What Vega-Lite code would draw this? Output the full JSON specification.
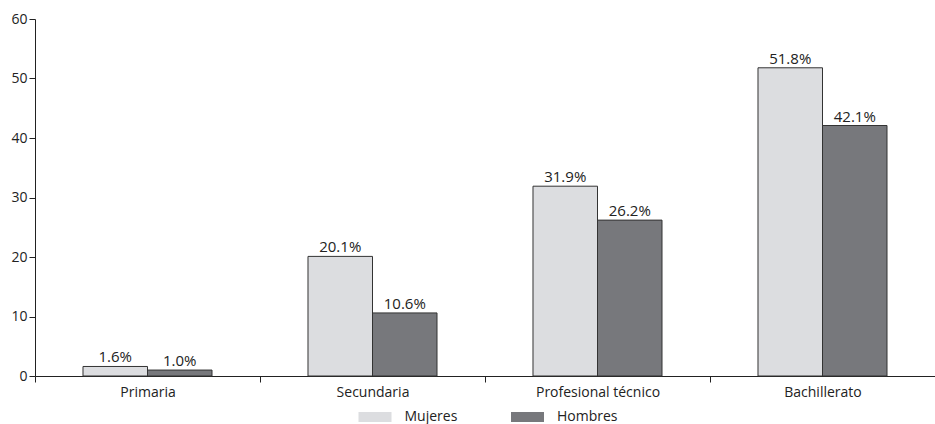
{
  "$schema": "https://vega.github.io/schema/vega-lite/v6.json",
  "autosize": "none",
  "width": 900,
  "height": 357,
  "padding": {"left": 35, "top": 19, "right": 0, "bottom": 48},
  "background": "white",
  "config": {
    "view": {"stroke": null},
    "font": "Open Sans",
    "axis": {
      "labelFont": "Open Sans",
      "labelFontSize": 14,
      "labelColor": "#222222",
      "domainColor": "#222222",
      "tickColor": "#222222",
      "grid": false,
      "title": null
    },
    "legend": {"labelFont": "Open Sans", "labelFontSize": 14, "labelColor": "#222222"}
  },
  "data": {
    "values": [
      {"nivel": "Primaria", "sexo": "Mujeres", "valor": 1.6},
      {"nivel": "Primaria", "sexo": "Hombres", "valor": 1.0},
      {"nivel": "Secundaria", "sexo": "Mujeres", "valor": 20.1},
      {"nivel": "Secundaria", "sexo": "Hombres", "valor": 10.6},
      {"nivel": "Profesional técnico", "sexo": "Mujeres", "valor": 31.9},
      {"nivel": "Profesional técnico", "sexo": "Hombres", "valor": 26.2},
      {"nivel": "Bachillerato", "sexo": "Mujeres", "valor": 51.8},
      {"nivel": "Bachillerato", "sexo": "Hombres", "valor": 42.1}
    ]
  },
  "encoding": {
    "x": {
      "field": "nivel",
      "type": "nominal",
      "sort": ["Primaria", "Secundaria", "Profesional técnico", "Bachillerato"],
      "scale": {"paddingInner": 0, "paddingOuter": 0},
      "axis": {"labelAngle": 0, "tickBand": "extent", "tickSize": 6, "labelPadding": 3, "domainWidth": 1}
    },
    "xOffset": {
      "field": "sexo",
      "type": "nominal",
      "sort": ["Mujeres", "Hombres"],
      "scale": {"paddingInner": 0, "paddingOuter": 0.744}
    },
    "y": {
      "field": "valor",
      "type": "quantitative",
      "scale": {"domain": [0, 60], "nice": false},
      "axis": {"values": [0, 10, 20, 30, 40, 50, 60], "tickSize": 6, "labelPadding": 2}
    }
  },
  "layer": [
    {
      "mark": {"type": "bar", "stroke": "#333333", "strokeWidth": 1},
      "encoding": {
        "fill": {
          "field": "sexo",
          "type": "nominal",
          "sort": ["Mujeres", "Hombres"],
          "scale": {"domain": ["Mujeres", "Hombres"], "range": ["#dcdde0", "#77787c"]},
          "legend": {
            "title": null,
            "orient": "none",
            "direction": "horizontal",
            "legendX": 330,
            "legendY": 388,
            "symbolType": "M-1.65,-0.5L1.65,-0.5L1.65,0.5L-1.65,0.5Z",
            "symbolSize": 400,
            "symbolStrokeWidth": 0,
            "labelOffset": 19.5,
            "columnPadding": 52.5
          }
        }
      }
    },
    {
      "transform": [
        {"calculate": "format(datum.valor, '.1f') + '%'", "as": "etiqueta"}
      ],
      "mark": {"type": "text", "baseline": "alphabetic", "dy": -4, "fontSize": 15, "color": "#222222", "font": "Open Sans"},
      "encoding": {
        "text": {"field": "etiqueta", "type": "nominal"}
      }
    }
  ]
}
